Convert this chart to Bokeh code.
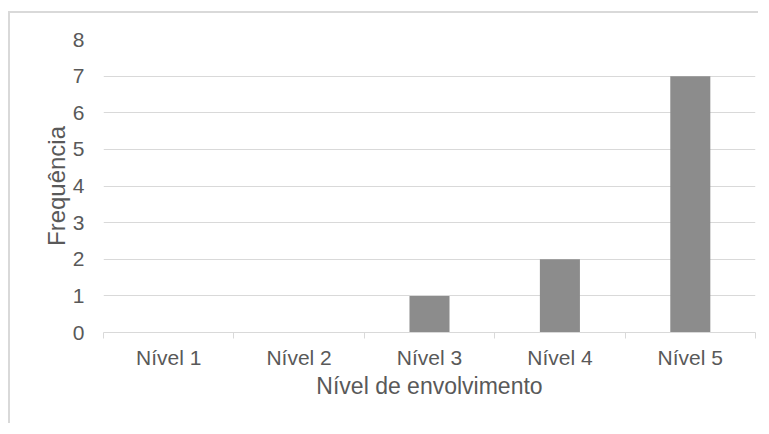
from bokeh.plotting import figure
from bokeh.models import FixedTicker, Range1d, ColumnDataSource
from bokeh.embed import file_html
from bokeh.resources import INLINE

categories = ["Nível 1", "Nível 2", "Nível 3", "Nível 4", "Nível 5"]
frequencias = [0, 0, 1, 2, 7]
y_ticks = [0, 1, 2, 3, 4, 5, 6, 7, 8]

x_centers = [i + 0.5 for i in range(len(categories))]
source = ColumnDataSource(data=dict(x=x_centers, top=frequencias, cat=categories))

FONT = "Liberation Sans"
TXT = "#595959"
GRID = "#d9d9d9"

p = figure(width=750, height=412, output_backend="svg", toolbar_location=None,
           x_range=Range1d(0, len(categories)), y_range=Range1d(0, 8),
           min_border_left=93, min_border_right=5, min_border_top=26, min_border_bottom=93)
p.margin = (11, 0, 0, 8)
p.styles = {"border-top": "2px solid #d9d9d9", "border-left": "2px solid #d9d9d9"}

p.vbar(x="x", top="top", width=0.307, bottom=0, source=source,
       fill_color="#8c8c8c", line_color=None)

p.outline_line_color = None
p.background_fill_color = "white"
p.border_fill_color = "white"

# x axis
p.xaxis.ticker = FixedTicker(ticks=x_centers, minor_ticks=list(range(len(categories) + 1)))
p.xaxis.major_label_overrides = {xc: c for xc, c in zip(x_centers, categories)}
p.xaxis.major_tick_line_color = None
p.xaxis.major_tick_out = 0
p.xaxis.major_tick_in = 0
p.xaxis.minor_tick_line_color = GRID
p.xaxis.minor_tick_out = 6
p.xaxis.minor_tick_in = 0
p.xaxis.axis_line_color = GRID
p.xaxis.axis_line_width = 1
p.xaxis.major_label_text_font = FONT
p.xaxis.major_label_text_font_size = "21px"
p.xaxis.major_label_text_color = TXT
p.xaxis.major_label_standoff = 7
p.xaxis.axis_label = "Nível de envolvimento"
p.xaxis.axis_label_text_font = FONT
p.xaxis.axis_label_text_font_size = "23px"
p.xaxis.axis_label_text_font_style = "normal"
p.xaxis.axis_label_text_color = TXT
p.xaxis.axis_label_standoff = 1

# y axis
p.yaxis.ticker = FixedTicker(ticks=y_ticks)
p.yaxis.axis_line_color = None
p.yaxis.major_tick_line_color = None
p.yaxis.major_tick_out = 0
p.yaxis.major_tick_in = 0
p.yaxis.minor_tick_line_color = None
p.yaxis.minor_tick_out = 0
p.yaxis.minor_tick_in = 0
p.yaxis.major_label_text_font = FONT
p.yaxis.major_label_text_font_size = "21px"
p.yaxis.major_label_text_color = TXT
p.yaxis.major_label_standoff = 19
p.yaxis.axis_label = "Frequência"
p.yaxis.axis_label_text_font = FONT
p.yaxis.axis_label_text_font_size = "24px"
p.yaxis.axis_label_text_font_style = "normal"
p.yaxis.axis_label_text_color = TXT
p.yaxis.axis_label_standoff = 0

p.xgrid.grid_line_color = None
p.ygrid.grid_line_color = GRID
p.ygrid.grid_line_width = 1

open("out.html", "w").write(file_html(p, INLINE))
